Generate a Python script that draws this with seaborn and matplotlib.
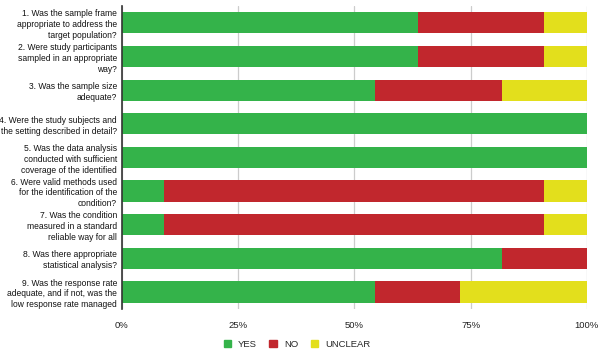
import matplotlib
matplotlib.use("Agg")
import matplotlib.pyplot as plt
import seaborn as sns
import pandas as pd
import numpy as np
from matplotlib.patches import Patch

questions = [
    "1. Was the sample frame\nappropriate to address the\ntarget population?",
    "2. Were study participants\nsampled in an appropriate\nway?",
    "3. Was the sample size\nadequate?",
    "4. Were the study subjects and\nthe setting described in detail?",
    "5. Was the data analysis\nconducted with sufficient\ncoverage of the identified",
    "6. Were valid methods used\nfor the identification of the\ncondition?",
    "7. Was the condition\nmeasured in a standard\nreliable way for all",
    "8. Was there appropriate\nstatistical analysis?",
    "9. Was the response rate\nadequate, and if not, was the\nlow response rate managed",
]
yes = [63.6, 63.6, 54.5, 100.0, 100.0, 9.1, 9.1, 81.8, 54.5]
no = [27.3, 27.3, 27.3, 0.0, 0.0, 81.8, 81.8, 18.2, 18.2]
unclear = [9.1, 9.1, 18.2, 0.0, 0.0, 9.1, 9.1, 0.0, 27.3]
series = ["YES", "NO", "UNCLEAR"]
colors = ["#34b34a", "#c1272d", "#e3df1c"]
xticks = [0, 25, 50, 75, 100]
xticklabels = ["0%", "25%", "50%", "75%", "100%"]

sns.set_style("white")
plt.rcParams["font.family"] = ["Liberation Sans", "DejaVu Sans"]

df = pd.DataFrame({"q": questions, "YES": yes, "NO": no, "UNCLEAR": unclear})
df["c_yes"] = df["YES"]
df["c_no"] = df["YES"] + df["NO"]
df["c_unc"] = df["YES"] + df["NO"] + df["UNCLEAR"]

fig = plt.figure(figsize=(6, 3.53), dpi=100)
ax = fig.add_axes([0.203, 0.125, 0.775, 0.858])

for col, c in zip(["c_unc", "c_no", "c_yes"], [colors[2], colors[1], colors[0]]):
    sns.barplot(data=df, y="q", x=col, orient="h", color=c, width=0.63,
                saturation=1, ax=ax, linewidth=0)

ax.set_xlim(0, 100)
ax.set_xticks(xticks)
ax.set_xticklabels(xticklabels, fontsize=6.8, color="#222222")
ax.tick_params(axis="y", labelsize=6.15, length=0, pad=3.5, colors="#111111")
ax.tick_params(axis="x", length=4, color="#cccccc", pad=5)
for lab in ax.get_yticklabels():
    lab.set_horizontalalignment("right")
    lab.set_linespacing(1.25)
ax.set_xlabel("")
ax.set_ylabel("")
ax.xaxis.grid(True, color="#cccccc", linewidth=0.9)
ax.set_axisbelow(True)
for s in ["top", "right", "bottom"]:
    ax.spines[s].set_visible(False)
ax.spines["left"].set_color("#333333")
ax.spines["left"].set_linewidth(1.2)

handles = [Patch(facecolor=c, edgecolor=c, label=s) for s, c in zip(series, colors)]
fig.legend(handles=handles, loc="center", bbox_to_anchor=(0.495, 0.025), ncol=3,
           frameon=False, fontsize=6.8, handlelength=0.8, handleheight=0.8,
           columnspacing=1.3, handletextpad=0.75)

fig.savefig("out.png", dpi=100)
